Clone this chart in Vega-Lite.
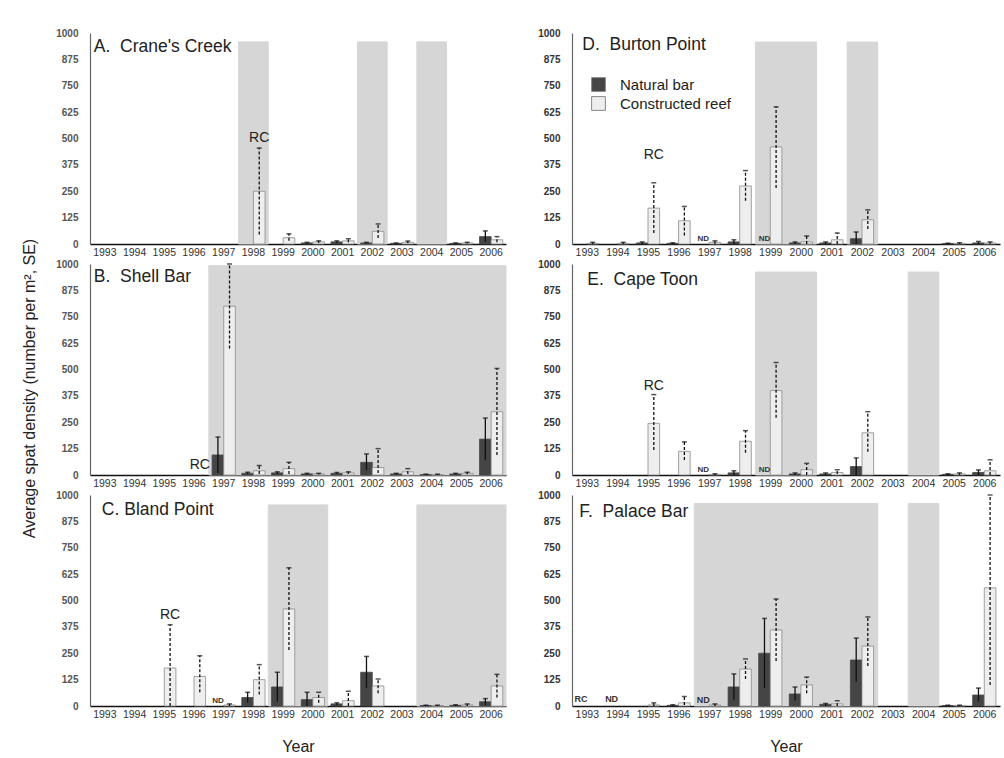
{
"$schema": "https://vega.github.io/schema/vega-lite/v6.json",
"padding": {"left": 21, "top": 28, "right": 5, "bottom": 5},
"background": "white",
"config": {"font": "Liberation Sans", "view": {"stroke": null}, "title": {"font": "Liberation Sans"}},
"datasets": {
"panels": [
{"site":"A","label":"A.\u00a0\u00a0Crane's Creek"},
{"site":"B","label":"B.\u00a0\u00a0Shell Bar"},
{"site":"C","label":"C.\u00a0Bland Point"},
{"site":"D","label":"D.\u00a0\u00a0Burton Point"},
{"site":"E","label":"E.\u00a0\u00a0Cape Toon"},
{"site":"F","label":"F.\u00a0\u00a0Palace Bar"}
],
"shade": [
{"site":"A","year":1998},{"site":"A","year":2002},{"site":"A","year":2004},
{"site":"B","year":1997},{"site":"B","year":1998},{"site":"B","year":1999},{"site":"B","year":2000},{"site":"B","year":2001},{"site":"B","year":2002},{"site":"B","year":2003},{"site":"B","year":2004},{"site":"B","year":2005},{"site":"B","year":2006},
{"site":"C","year":1999},{"site":"C","year":2000},{"site":"C","year":2004},{"site":"C","year":2005},{"site":"C","year":2006},
{"site":"D","year":1999},{"site":"D","year":2000},{"site":"D","year":2002},
{"site":"E","year":1999},{"site":"E","year":2000},{"site":"E","year":2004},
{"site":"F","year":1997},{"site":"F","year":1998},{"site":"F","year":1999},{"site":"F","year":2000},{"site":"F","year":2001},{"site":"F","year":2002},{"site":"F","year":2004}
],
"bars": [
{"site":"A","year":1998,"type":"Constructed reef","mean":250,"lo":45,"hi":455},
{"site":"A","year":1999,"type":"Constructed reef","mean":30,"lo":15,"hi":48},
{"site":"A","year":2000,"type":"Natural bar","mean":5,"lo":2,"hi":8},
{"site":"A","year":2000,"type":"Constructed reef","mean":10,"lo":5,"hi":15},
{"site":"A","year":2001,"type":"Natural bar","mean":10,"lo":5,"hi":15},
{"site":"A","year":2001,"type":"Constructed reef","mean":15,"lo":8,"hi":25},
{"site":"A","year":2002,"type":"Natural bar","mean":5,"lo":2,"hi":8},
{"site":"A","year":2002,"type":"Constructed reef","mean":60,"lo":28,"hi":95},
{"site":"A","year":2003,"type":"Natural bar","mean":3,"lo":1,"hi":5},
{"site":"A","year":2003,"type":"Constructed reef","mean":8,"lo":3,"hi":14},
{"site":"A","year":2005,"type":"Natural bar","mean":3,"lo":1,"hi":5},
{"site":"A","year":2005,"type":"Constructed reef","mean":5,"lo":2,"hi":8},
{"site":"A","year":2006,"type":"Natural bar","mean":35,"lo":10,"hi":62},
{"site":"A","year":2006,"type":"Constructed reef","mean":20,"lo":8,"hi":35},
{"site":"B","year":1997,"type":"Natural bar","mean":95,"lo":10,"hi":180},
{"site":"B","year":1997,"type":"Constructed reef","mean":800,"lo":600,"hi":1000},
{"site":"B","year":1998,"type":"Natural bar","mean":8,"lo":3,"hi":13},
{"site":"B","year":1998,"type":"Constructed reef","mean":20,"lo":5,"hi":45},
{"site":"B","year":1999,"type":"Natural bar","mean":10,"lo":5,"hi":15},
{"site":"B","year":1999,"type":"Constructed reef","mean":30,"lo":5,"hi":60},
{"site":"B","year":2000,"type":"Natural bar","mean":5,"lo":2,"hi":8},
{"site":"B","year":2000,"type":"Constructed reef","mean":5,"lo":2,"hi":8},
{"site":"B","year":2001,"type":"Natural bar","mean":8,"lo":5,"hi":12},
{"site":"B","year":2001,"type":"Constructed reef","mean":10,"lo":5,"hi":15},
{"site":"B","year":2002,"type":"Natural bar","mean":60,"lo":22,"hi":100},
{"site":"B","year":2002,"type":"Constructed reef","mean":35,"lo":10,"hi":125},
{"site":"B","year":2003,"type":"Natural bar","mean":5,"lo":2,"hi":8},
{"site":"B","year":2003,"type":"Constructed reef","mean":15,"lo":5,"hi":30},
{"site":"B","year":2004,"type":"Natural bar","mean":2,"lo":0,"hi":4},
{"site":"B","year":2004,"type":"Constructed reef","mean":2,"lo":0,"hi":4},
{"site":"B","year":2005,"type":"Natural bar","mean":5,"lo":2,"hi":8},
{"site":"B","year":2005,"type":"Constructed reef","mean":8,"lo":3,"hi":13},
{"site":"B","year":2006,"type":"Natural bar","mean":170,"lo":70,"hi":270},
{"site":"B","year":2006,"type":"Constructed reef","mean":300,"lo":95,"hi":505},
{"site":"C","year":1995,"type":"Constructed reef","mean":180,"lo":0,"hi":385},
{"site":"C","year":1996,"type":"Constructed reef","mean":140,"lo":65,"hi":238},
{"site":"C","year":1997,"type":"Constructed reef","mean":5,"lo":0,"hi":10},
{"site":"C","year":1998,"type":"Natural bar","mean":40,"lo":15,"hi":65},
{"site":"C","year":1998,"type":"Constructed reef","mean":125,"lo":55,"hi":196},
{"site":"C","year":1999,"type":"Natural bar","mean":90,"lo":20,"hi":160},
{"site":"C","year":1999,"type":"Constructed reef","mean":460,"lo":265,"hi":655},
{"site":"C","year":2000,"type":"Natural bar","mean":30,"lo":0,"hi":65},
{"site":"C","year":2000,"type":"Constructed reef","mean":40,"lo":15,"hi":65},
{"site":"C","year":2001,"type":"Natural bar","mean":10,"lo":5,"hi":15},
{"site":"C","year":2001,"type":"Constructed reef","mean":25,"lo":0,"hi":70},
{"site":"C","year":2002,"type":"Natural bar","mean":160,"lo":85,"hi":235},
{"site":"C","year":2002,"type":"Constructed reef","mean":95,"lo":60,"hi":128},
{"site":"C","year":2004,"type":"Natural bar","mean":2,"lo":0,"hi":4},
{"site":"C","year":2004,"type":"Constructed reef","mean":2,"lo":0,"hi":4},
{"site":"C","year":2005,"type":"Natural bar","mean":3,"lo":0,"hi":6},
{"site":"C","year":2005,"type":"Constructed reef","mean":5,"lo":0,"hi":10},
{"site":"C","year":2006,"type":"Natural bar","mean":20,"lo":5,"hi":35},
{"site":"C","year":2006,"type":"Constructed reef","mean":95,"lo":40,"hi":150},
{"site":"D","year":1993,"type":"Constructed reef","mean":3,"lo":0,"hi":8},
{"site":"D","year":1994,"type":"Constructed reef","mean":3,"lo":0,"hi":8},
{"site":"D","year":1995,"type":"Natural bar","mean":5,"lo":0,"hi":10},
{"site":"D","year":1995,"type":"Constructed reef","mean":170,"lo":52,"hi":290},
{"site":"D","year":1996,"type":"Natural bar","mean":3,"lo":0,"hi":6},
{"site":"D","year":1996,"type":"Constructed reef","mean":110,"lo":40,"hi":178},
{"site":"D","year":1997,"type":"Constructed reef","mean":8,"lo":0,"hi":15},
{"site":"D","year":1998,"type":"Natural bar","mean":10,"lo":0,"hi":20},
{"site":"D","year":1998,"type":"Constructed reef","mean":275,"lo":205,"hi":348},
{"site":"D","year":1999,"type":"Constructed reef","mean":460,"lo":265,"hi":650},
{"site":"D","year":2000,"type":"Natural bar","mean":5,"lo":0,"hi":10},
{"site":"D","year":2000,"type":"Constructed reef","mean":10,"lo":0,"hi":38},
{"site":"D","year":2001,"type":"Natural bar","mean":5,"lo":0,"hi":10},
{"site":"D","year":2001,"type":"Constructed reef","mean":20,"lo":0,"hi":52},
{"site":"D","year":2002,"type":"Natural bar","mean":25,"lo":0,"hi":57},
{"site":"D","year":2002,"type":"Constructed reef","mean":115,"lo":71,"hi":162},
{"site":"D","year":2005,"type":"Natural bar","mean":2,"lo":0,"hi":4},
{"site":"D","year":2005,"type":"Constructed reef","mean":3,"lo":0,"hi":6},
{"site":"D","year":2006,"type":"Natural bar","mean":5,"lo":0,"hi":12},
{"site":"D","year":2006,"type":"Constructed reef","mean":5,"lo":0,"hi":10},
{"site":"E","year":1995,"type":"Constructed reef","mean":245,"lo":119,"hi":381},
{"site":"E","year":1996,"type":"Constructed reef","mean":112,"lo":71,"hi":157},
{"site":"E","year":1997,"type":"Constructed reef","mean":3,"lo":0,"hi":6},
{"site":"E","year":1998,"type":"Natural bar","mean":10,"lo":0,"hi":20},
{"site":"E","year":1998,"type":"Constructed reef","mean":160,"lo":105,"hi":210},
{"site":"E","year":1999,"type":"Constructed reef","mean":400,"lo":271,"hi":533},
{"site":"E","year":2000,"type":"Natural bar","mean":5,"lo":0,"hi":10},
{"site":"E","year":2000,"type":"Constructed reef","mean":25,"lo":0,"hi":55},
{"site":"E","year":2001,"type":"Natural bar","mean":5,"lo":0,"hi":10},
{"site":"E","year":2001,"type":"Constructed reef","mean":12,"lo":5,"hi":25},
{"site":"E","year":2002,"type":"Natural bar","mean":40,"lo":0,"hi":81},
{"site":"E","year":2002,"type":"Constructed reef","mean":200,"lo":110,"hi":300},
{"site":"E","year":2005,"type":"Natural bar","mean":3,"lo":0,"hi":6},
{"site":"E","year":2005,"type":"Constructed reef","mean":5,"lo":0,"hi":10},
{"site":"E","year":2006,"type":"Natural bar","mean":12,"lo":0,"hi":24},
{"site":"E","year":2006,"type":"Constructed reef","mean":20,"lo":0,"hi":72},
{"site":"F","year":1995,"type":"Constructed reef","mean":5,"lo":0,"hi":15},
{"site":"F","year":1996,"type":"Natural bar","mean":3,"lo":0,"hi":6},
{"site":"F","year":1996,"type":"Constructed reef","mean":15,"lo":5,"hi":45},
{"site":"F","year":1997,"type":"Constructed reef","mean":5,"lo":0,"hi":10},
{"site":"F","year":1998,"type":"Natural bar","mean":90,"lo":30,"hi":152},
{"site":"F","year":1998,"type":"Constructed reef","mean":175,"lo":128,"hi":223},
{"site":"F","year":1999,"type":"Natural bar","mean":250,"lo":85,"hi":415},
{"site":"F","year":1999,"type":"Constructed reef","mean":360,"lo":213,"hi":507},
{"site":"F","year":2000,"type":"Natural bar","mean":57,"lo":25,"hi":90},
{"site":"F","year":2000,"type":"Constructed reef","mean":100,"lo":60,"hi":137},
{"site":"F","year":2001,"type":"Natural bar","mean":8,"lo":0,"hi":12},
{"site":"F","year":2001,"type":"Constructed reef","mean":10,"lo":0,"hi":25},
{"site":"F","year":2002,"type":"Natural bar","mean":218,"lo":115,"hi":322},
{"site":"F","year":2002,"type":"Constructed reef","mean":284,"lo":190,"hi":422},
{"site":"F","year":2005,"type":"Natural bar","mean":2,"lo":0,"hi":4},
{"site":"F","year":2005,"type":"Constructed reef","mean":2,"lo":0,"hi":4},
{"site":"F","year":2006,"type":"Natural bar","mean":52,"lo":20,"hi":85},
{"site":"F","year":2006,"type":"Constructed reef","mean":560,"lo":100,"hi":1000}
],
"notes": [
{"site":"A","year":1998,"type":"Constructed reef","value":470,"text":"RC"},
{"site":"B","year":1996,"type":"Constructed reef","value":12,"text":"RC"},
{"site":"C","year":1995,"type":"Constructed reef","value":400,"text":"RC"},
{"site":"D","year":1995,"type":"Constructed reef","value":390,"text":"RC"},
{"site":"E","year":1995,"type":"Constructed reef","value":390,"text":"RC"},
{"site":"F","year":1993,"type":"Natural bar","value":5,"text":"RC"},
{"site":"F","year":1994,"type":"Natural bar","value":5,"text":"ND"},
{"site":"C","year":1997,"type":"Natural bar","value":0,"text":"ND"},
{"site":"D","year":1997,"type":"Natural bar","value":0,"text":"ND"},
{"site":"D","year":1999,"type":"Natural bar","value":0,"text":"ND"},
{"site":"E","year":1997,"type":"Natural bar","value":0,"text":"ND"},
{"site":"E","year":1999,"type":"Natural bar","value":0,"text":"ND"},
{"site":"F","year":1997,"type":"Natural bar","value":0,"text":"ND"}
]
},
"columns": 2,
"bounds": "flush",
"spacing": {"row": 20, "column": 66},
"resolve": {"legend": {"fill": "independent"}},
"concat": [
{
"width": 416, "height": 211,
"encoding": {"x": {"field":"year","type":"ordinal","scale":{"domain":[1993,1994,1995,1996,1997,1998,1999,2000,2001,2002,2003,2004,2005,2006],"paddingInner":0,"paddingOuter":0},"axis":{"title":null,"labelFontSize":10.5,"labelColor":"#333","ticks":false,"labelAngle":0,"domainColor":"#111","domainWidth":1.5,"labelPadding":3,"labelOverlap":false}}},
"layer": [
{"data":{"name":"shade"},"transform":[{"filter":"datum.site==='A'"}],"mark":{"type":"bar","color":"#d6d6d6","stroke":"#d6d6d6","strokeWidth":1},
 "encoding":{"y":{"datum":958,"type":"quantitative","scale":{"domain":[0,1000],"nice":false},"axis":{"values":[0,125,250,375,500,625,750,875,1000],"format":"d","title":null,"labelFontSize":10,"labelFontWeight":"bold","labelColor":"#555","ticks":false,"grid":false,"domainColor":"#666","domainWidth":1.2,"labelPadding":12,"labelFlush":false,"labelOverlap":false}},"y2":{"datum":0}}},
{"data":{"name":"bars"},"transform":[{"filter":"datum.site==='A'"}],"mark":{"type":"bar","strokeWidth":0.8},
 "encoding":{"xOffset":{"field":"type","type":"nominal","scale":{"domain":["Natural bar","Constructed reef"],"paddingInner":0,"paddingOuter":0.28}},
  "y":{"field":"mean","type":"quantitative","scale":{"domain":[0,1000],"nice":false},"axis":{"values":[0,125,250,375,500,625,750,875,1000],"format":"d","title":null,"labelFontSize":10,"labelFontWeight":"bold","labelColor":"#555","ticks":false,"grid":false,"domainColor":"#666","domainWidth":1.2,"labelPadding":12,"labelFlush":false,"labelOverlap":false}},
  "fill":{"field":"type","type":"nominal","scale":{"domain":["Natural bar","Constructed reef"],"range":["#454545","#eeeeee"]},"legend":null},
  "stroke":{"condition":{"test":"datum.type==='Constructed reef'","value":"#8c8c8c"},"value":"#454545"}}},
{"data":{"name":"bars"},"transform":[{"filter":"datum.site==='A'"}],"mark":{"type":"rule","strokeWidth":1.3,"color":"#111"},
 "encoding":{"xOffset":{"field":"type","type":"nominal","scale":{"domain":["Natural bar","Constructed reef"],"paddingInner":0,"paddingOuter":0.28}},
  "y":{"field":"lo","type":"quantitative","scale":{"domain":[0,1000],"nice":false},"axis":{"values":[0,125,250,375,500,625,750,875,1000],"format":"d","title":null,"labelFontSize":10,"labelFontWeight":"bold","labelColor":"#555","ticks":false,"grid":false,"domainColor":"#666","domainWidth":1.2,"labelPadding":12,"labelFlush":false,"labelOverlap":false}},"y2":{"field":"hi"},
  "strokeDash":{"field":"type","type":"nominal","scale":{"domain":["Natural bar","Constructed reef"],"range":[[1,0],[3,2]]},"legend":null}}},
{"data":{"name":"bars"},"transform":[{"filter":"datum.site==='A'"}],"mark":{"type":"tick","size":5,"thickness":1.5,"color":"#111"},
 "encoding":{"xOffset":{"field":"type","type":"nominal","scale":{"domain":["Natural bar","Constructed reef"],"paddingInner":0,"paddingOuter":0.28}},
  "y":{"field":"hi","type":"quantitative","scale":{"domain":[0,1000],"nice":false},"axis":{"values":[0,125,250,375,500,625,750,875,1000],"format":"d","title":null,"labelFontSize":10,"labelFontWeight":"bold","labelColor":"#555","ticks":false,"grid":false,"domainColor":"#666","domainWidth":1.2,"labelPadding":12,"labelFlush":false,"labelOverlap":false}}}},
{"data":{"name":"notes"},"transform":[{"filter":"datum.site==='A' && datum.text==='RC'"}],"mark":{"type":"text","fontSize":14,"color":"#222","baseline":"bottom","align":"center"},
 "encoding":{"xOffset":{"field":"type","type":"nominal","scale":{"domain":["Natural bar","Constructed reef"],"paddingInner":0,"paddingOuter":0.28}},
  "y":{"field":"value","type":"quantitative","scale":{"domain":[0,1000],"nice":false},"axis":{"values":[0,125,250,375,500,625,750,875,1000],"format":"d","title":null,"labelFontSize":10,"labelFontWeight":"bold","labelColor":"#555","ticks":false,"grid":false,"domainColor":"#666","domainWidth":1.2,"labelPadding":12,"labelFlush":false,"labelOverlap":false}},"text":{"field":"text"}}},
{"data":{"name":"panels"},"transform":[{"filter":"datum.site==='A'"}],"mark":{"type":"text","fontSize":17.5,"color":"#222","baseline":"top","align":"left","dx":-11,"dy":5},
 "encoding":{"x":{"datum":1993,"type":"ordinal","scale":{"domain":[1993,1994,1995,1996,1997,1998,1999,2000,2001,2002,2003,2004,2005,2006],"paddingInner":0,"paddingOuter":0},"axis":{"title":null,"labelFontSize":10.5,"labelColor":"#333","ticks":false,"labelAngle":0,"domainColor":"#111","domainWidth":1.5,"labelPadding":3,"labelOverlap":false}},
  "y":{"datum":1000,"type":"quantitative","scale":{"domain":[0,1000],"nice":false},"axis":{"values":[0,125,250,375,500,625,750,875,1000],"format":"d","title":null,"labelFontSize":10,"labelFontWeight":"bold","labelColor":"#555","ticks":false,"grid":false,"domainColor":"#666","domainWidth":1.2,"labelPadding":12,"labelFlush":false,"labelOverlap":false}},"text":{"field":"label"}}}
]
},
{
"width": 428, "height": 211,
"encoding": {"x": {"field":"year","type":"ordinal","scale":{"domain":[1993,1994,1995,1996,1997,1998,1999,2000,2001,2002,2003,2004,2005,2006],"paddingInner":0,"paddingOuter":0},"axis":{"title":null,"labelFontSize":10.5,"labelColor":"#333","ticks":false,"labelAngle":0,"domainColor":"#111","domainWidth":1.5,"labelPadding":3,"labelOverlap":false}}},
"layer": [
{"data":{"name":"shade"},"transform":[{"filter":"datum.site==='D'"}],"mark":{"type":"bar","color":"#d6d6d6","stroke":"#d6d6d6","strokeWidth":1},
 "encoding":{"y":{"datum":957,"type":"quantitative","scale":{"domain":[0,1000],"nice":false},"axis":{"values":[0,125,250,375,500,625,750,875,1000],"format":"d","title":null,"labelFontSize":10,"labelFontWeight":"bold","labelColor":"#333","ticks":false,"grid":false,"domainColor":"#666","domainWidth":1.2,"labelPadding":12,"labelFlush":false,"labelOverlap":false}},"y2":{"datum":0}}},
{"data":{"name":"bars"},"transform":[{"filter":"datum.site==='D'"}],"mark":{"type":"bar","strokeWidth":0.8},
 "encoding":{"xOffset":{"field":"type","type":"nominal","scale":{"domain":["Natural bar","Constructed reef"],"paddingInner":0,"paddingOuter":0.28}},
  "y":{"field":"mean","type":"quantitative","scale":{"domain":[0,1000],"nice":false},"axis":{"values":[0,125,250,375,500,625,750,875,1000],"format":"d","title":null,"labelFontSize":10,"labelFontWeight":"bold","labelColor":"#333","ticks":false,"grid":false,"domainColor":"#666","domainWidth":1.2,"labelPadding":12,"labelFlush":false,"labelOverlap":false}},
  "fill":{"field":"type","type":"nominal","scale":{"domain":["Natural bar","Constructed reef"],"range":["#454545","#eeeeee"]},"legend":{"title":null,"orient":"none","legendX":19,"legendY":44,"symbolType":"square","symbolSize":190,"symbolStrokeColor":"#888","symbolStrokeWidth":1,"labelFontSize":15,"labelColor":"#222","labelFont":"Liberation Sans","labelOffset":14,"rowPadding":0}},
  "stroke":{"condition":{"test":"datum.type==='Constructed reef'","value":"#8c8c8c"},"value":"#454545"}}},
{"data":{"name":"bars"},"transform":[{"filter":"datum.site==='D'"}],"mark":{"type":"rule","strokeWidth":1.3,"color":"#111"},
 "encoding":{"xOffset":{"field":"type","type":"nominal","scale":{"domain":["Natural bar","Constructed reef"],"paddingInner":0,"paddingOuter":0.28}},
  "y":{"field":"lo","type":"quantitative","scale":{"domain":[0,1000],"nice":false},"axis":{"values":[0,125,250,375,500,625,750,875,1000],"format":"d","title":null,"labelFontSize":10,"labelFontWeight":"bold","labelColor":"#333","ticks":false,"grid":false,"domainColor":"#666","domainWidth":1.2,"labelPadding":12,"labelFlush":false,"labelOverlap":false}},"y2":{"field":"hi"},
  "strokeDash":{"field":"type","type":"nominal","scale":{"domain":["Natural bar","Constructed reef"],"range":[[1,0],[3,2]]},"legend":null}}},
{"data":{"name":"bars"},"transform":[{"filter":"datum.site==='D'"}],"mark":{"type":"tick","size":5,"thickness":1.5,"color":"#111"},
 "encoding":{"xOffset":{"field":"type","type":"nominal","scale":{"domain":["Natural bar","Constructed reef"],"paddingInner":0,"paddingOuter":0.28}},
  "y":{"field":"hi","type":"quantitative","scale":{"domain":[0,1000],"nice":false},"axis":{"values":[0,125,250,375,500,625,750,875,1000],"format":"d","title":null,"labelFontSize":10,"labelFontWeight":"bold","labelColor":"#333","ticks":false,"grid":false,"domainColor":"#666","domainWidth":1.2,"labelPadding":12,"labelFlush":false,"labelOverlap":false}}}},
{"data":{"name":"notes"},"transform":[{"filter":"datum.site==='D' && datum.text==='RC'"}],"mark":{"type":"text","fontSize":14,"color":"#222","baseline":"bottom","align":"center"},
 "encoding":{"xOffset":{"field":"type","type":"nominal","scale":{"domain":["Natural bar","Constructed reef"],"paddingInner":0,"paddingOuter":0.28}},
  "y":{"field":"value","type":"quantitative","scale":{"domain":[0,1000],"nice":false},"axis":{"values":[0,125,250,375,500,625,750,875,1000],"format":"d","title":null,"labelFontSize":10,"labelFontWeight":"bold","labelColor":"#333","ticks":false,"grid":false,"domainColor":"#666","domainWidth":1.2,"labelPadding":12,"labelFlush":false,"labelOverlap":false}},"text":{"field":"text"}}},
{"data":{"name":"notes"},"transform":[{"filter":"datum.site==='D' && datum.text==='ND'"}],"mark":{"type":"text","fontSize":8,"fontWeight":"bold","color":"#333","baseline":"bottom","align":"center","dy":-1},
 "encoding":{"xOffset":{"field":"type","type":"nominal","scale":{"domain":["Natural bar","Constructed reef"],"paddingInner":0,"paddingOuter":0.28}},
  "y":{"field":"value","type":"quantitative","scale":{"domain":[0,1000],"nice":false},"axis":{"values":[0,125,250,375,500,625,750,875,1000],"format":"d","title":null,"labelFontSize":10,"labelFontWeight":"bold","labelColor":"#333","ticks":false,"grid":false,"domainColor":"#666","domainWidth":1.2,"labelPadding":12,"labelFlush":false,"labelOverlap":false}},"text":{"field":"text"}}},
{"data":{"name":"panels"},"transform":[{"filter":"datum.site==='D'"}],"mark":{"type":"text","fontSize":17.5,"color":"#222","baseline":"top","align":"left","dx":-5,"dy":3},
 "encoding":{"x":{"datum":1993,"type":"ordinal","scale":{"domain":[1993,1994,1995,1996,1997,1998,1999,2000,2001,2002,2003,2004,2005,2006],"paddingInner":0,"paddingOuter":0},"axis":{"title":null,"labelFontSize":10.5,"labelColor":"#333","ticks":false,"labelAngle":0,"domainColor":"#111","domainWidth":1.5,"labelPadding":3,"labelOverlap":false}},
  "y":{"datum":1000,"type":"quantitative","scale":{"domain":[0,1000],"nice":false},"axis":{"values":[0,125,250,375,500,625,750,875,1000],"format":"d","title":null,"labelFontSize":10,"labelFontWeight":"bold","labelColor":"#333","ticks":false,"grid":false,"domainColor":"#666","domainWidth":1.2,"labelPadding":12,"labelFlush":false,"labelOverlap":false}},"text":{"field":"label"}}}
]
},
{
"width": 416, "height": 211,
"encoding": {"x": {"field":"year","type":"ordinal","scale":{"domain":[1993,1994,1995,1996,1997,1998,1999,2000,2001,2002,2003,2004,2005,2006],"paddingInner":0,"paddingOuter":0},"axis":{"title":null,"labelFontSize":10.5,"labelColor":"#333","ticks":false,"labelAngle":0,"domainColor":"#111","domainWidth":1.5,"labelPadding":3,"labelOverlap":false}}},
"layer": [
{"data":{"name":"shade"},"transform":[{"filter":"datum.site==='B'"}],"mark":{"type":"bar","color":"#d6d6d6","stroke":"#d6d6d6","strokeWidth":1},
 "encoding":{"y":{"datum":992,"type":"quantitative","scale":{"domain":[0,1000],"nice":false},"axis":{"values":[0,125,250,375,500,625,750,875,1000],"format":"d","title":"Average spat density (number per m², SE)","titleFontSize":16,"titleFontWeight":"normal","titleColor":"#222","titlePadding":18,"titleY":124,"labelFontSize":10,"labelFontWeight":"bold","labelColor":"#555","ticks":false,"grid":false,"domainColor":"#666","domainWidth":1.2,"labelPadding":12,"labelFlush":false,"labelOverlap":false}},"y2":{"datum":0}}},
{"data":{"name":"bars"},"transform":[{"filter":"datum.site==='B'"}],"mark":{"type":"bar","strokeWidth":0.8},
 "encoding":{"xOffset":{"field":"type","type":"nominal","scale":{"domain":["Natural bar","Constructed reef"],"paddingInner":0,"paddingOuter":0.28}},
  "y":{"field":"mean","type":"quantitative","scale":{"domain":[0,1000],"nice":false},"axis":{"values":[0,125,250,375,500,625,750,875,1000],"format":"d","title":"Average spat density (number per m², SE)","titleFontSize":16,"titleFontWeight":"normal","titleColor":"#222","titlePadding":18,"titleY":124,"labelFontSize":10,"labelFontWeight":"bold","labelColor":"#555","ticks":false,"grid":false,"domainColor":"#666","domainWidth":1.2,"labelPadding":12,"labelFlush":false,"labelOverlap":false}},
  "fill":{"field":"type","type":"nominal","scale":{"domain":["Natural bar","Constructed reef"],"range":["#454545","#eeeeee"]},"legend":null},
  "stroke":{"condition":{"test":"datum.type==='Constructed reef'","value":"#8c8c8c"},"value":"#454545"}}},
{"data":{"name":"bars"},"transform":[{"filter":"datum.site==='B'"}],"mark":{"type":"rule","strokeWidth":1.3,"color":"#111"},
 "encoding":{"xOffset":{"field":"type","type":"nominal","scale":{"domain":["Natural bar","Constructed reef"],"paddingInner":0,"paddingOuter":0.28}},
  "y":{"field":"lo","type":"quantitative","scale":{"domain":[0,1000],"nice":false},"axis":{"values":[0,125,250,375,500,625,750,875,1000],"format":"d","title":"Average spat density (number per m², SE)","titleFontSize":16,"titleFontWeight":"normal","titleColor":"#222","titlePadding":18,"titleY":124,"labelFontSize":10,"labelFontWeight":"bold","labelColor":"#555","ticks":false,"grid":false,"domainColor":"#666","domainWidth":1.2,"labelPadding":12,"labelFlush":false,"labelOverlap":false}},"y2":{"field":"hi"},
  "strokeDash":{"field":"type","type":"nominal","scale":{"domain":["Natural bar","Constructed reef"],"range":[[1,0],[3,2]]},"legend":null}}},
{"data":{"name":"bars"},"transform":[{"filter":"datum.site==='B'"}],"mark":{"type":"tick","size":5,"thickness":1.5,"color":"#111"},
 "encoding":{"xOffset":{"field":"type","type":"nominal","scale":{"domain":["Natural bar","Constructed reef"],"paddingInner":0,"paddingOuter":0.28}},
  "y":{"field":"hi","type":"quantitative","scale":{"domain":[0,1000],"nice":false},"axis":{"values":[0,125,250,375,500,625,750,875,1000],"format":"d","title":"Average spat density (number per m², SE)","titleFontSize":16,"titleFontWeight":"normal","titleColor":"#222","titlePadding":18,"titleY":124,"labelFontSize":10,"labelFontWeight":"bold","labelColor":"#555","ticks":false,"grid":false,"domainColor":"#666","domainWidth":1.2,"labelPadding":12,"labelFlush":false,"labelOverlap":false}}}},
{"data":{"name":"notes"},"transform":[{"filter":"datum.site==='B' && datum.text==='RC'"}],"mark":{"type":"text","fontSize":14,"color":"#222","baseline":"bottom","align":"center"},
 "encoding":{"xOffset":{"field":"type","type":"nominal","scale":{"domain":["Natural bar","Constructed reef"],"paddingInner":0,"paddingOuter":0.28}},
  "y":{"field":"value","type":"quantitative","scale":{"domain":[0,1000],"nice":false},"axis":{"values":[0,125,250,375,500,625,750,875,1000],"format":"d","title":"Average spat density (number per m², SE)","titleFontSize":16,"titleFontWeight":"normal","titleColor":"#222","titlePadding":18,"titleY":124,"labelFontSize":10,"labelFontWeight":"bold","labelColor":"#555","ticks":false,"grid":false,"domainColor":"#666","domainWidth":1.2,"labelPadding":12,"labelFlush":false,"labelOverlap":false}},"text":{"field":"text"}}},
{"data":{"name":"panels"},"transform":[{"filter":"datum.site==='B'"}],"mark":{"type":"text","fontSize":17.5,"color":"#222","baseline":"top","align":"left","dx":-11,"dy":4},
 "encoding":{"x":{"datum":1993,"type":"ordinal","scale":{"domain":[1993,1994,1995,1996,1997,1998,1999,2000,2001,2002,2003,2004,2005,2006],"paddingInner":0,"paddingOuter":0},"axis":{"title":null,"labelFontSize":10.5,"labelColor":"#333","ticks":false,"labelAngle":0,"domainColor":"#111","domainWidth":1.5,"labelPadding":3,"labelOverlap":false}},
  "y":{"datum":1000,"type":"quantitative","scale":{"domain":[0,1000],"nice":false},"axis":{"values":[0,125,250,375,500,625,750,875,1000],"format":"d","title":"Average spat density (number per m², SE)","titleFontSize":16,"titleFontWeight":"normal","titleColor":"#222","titlePadding":18,"titleY":124,"labelFontSize":10,"labelFontWeight":"bold","labelColor":"#555","ticks":false,"grid":false,"domainColor":"#666","domainWidth":1.2,"labelPadding":12,"labelFlush":false,"labelOverlap":false}},"text":{"field":"label"}}}
]
},
{
"width": 428, "height": 211,
"encoding": {"x": {"field":"year","type":"ordinal","scale":{"domain":[1993,1994,1995,1996,1997,1998,1999,2000,2001,2002,2003,2004,2005,2006],"paddingInner":0,"paddingOuter":0},"axis":{"title":null,"labelFontSize":10.5,"labelColor":"#333","ticks":false,"labelAngle":0,"domainColor":"#111","domainWidth":1.5,"labelPadding":3,"labelOverlap":false}}},
"layer": [
{"data":{"name":"shade"},"transform":[{"filter":"datum.site==='E'"}],"mark":{"type":"bar","color":"#d6d6d6","stroke":"#d6d6d6","strokeWidth":1},
 "encoding":{"y":{"datum":962,"type":"quantitative","scale":{"domain":[0,1000],"nice":false},"axis":{"values":[0,125,250,375,500,625,750,875,1000],"format":"d","title":null,"labelFontSize":10,"labelFontWeight":"bold","labelColor":"#333","ticks":false,"grid":false,"domainColor":"#666","domainWidth":1.2,"labelPadding":12,"labelFlush":false,"labelOverlap":false}},"y2":{"datum":0}}},
{"data":{"name":"bars"},"transform":[{"filter":"datum.site==='E'"}],"mark":{"type":"bar","strokeWidth":0.8},
 "encoding":{"xOffset":{"field":"type","type":"nominal","scale":{"domain":["Natural bar","Constructed reef"],"paddingInner":0,"paddingOuter":0.28}},
  "y":{"field":"mean","type":"quantitative","scale":{"domain":[0,1000],"nice":false},"axis":{"values":[0,125,250,375,500,625,750,875,1000],"format":"d","title":null,"labelFontSize":10,"labelFontWeight":"bold","labelColor":"#333","ticks":false,"grid":false,"domainColor":"#666","domainWidth":1.2,"labelPadding":12,"labelFlush":false,"labelOverlap":false}},
  "fill":{"field":"type","type":"nominal","scale":{"domain":["Natural bar","Constructed reef"],"range":["#454545","#eeeeee"]},"legend":null},
  "stroke":{"condition":{"test":"datum.type==='Constructed reef'","value":"#8c8c8c"},"value":"#454545"}}},
{"data":{"name":"bars"},"transform":[{"filter":"datum.site==='E'"}],"mark":{"type":"rule","strokeWidth":1.3,"color":"#111"},
 "encoding":{"xOffset":{"field":"type","type":"nominal","scale":{"domain":["Natural bar","Constructed reef"],"paddingInner":0,"paddingOuter":0.28}},
  "y":{"field":"lo","type":"quantitative","scale":{"domain":[0,1000],"nice":false},"axis":{"values":[0,125,250,375,500,625,750,875,1000],"format":"d","title":null,"labelFontSize":10,"labelFontWeight":"bold","labelColor":"#333","ticks":false,"grid":false,"domainColor":"#666","domainWidth":1.2,"labelPadding":12,"labelFlush":false,"labelOverlap":false}},"y2":{"field":"hi"},
  "strokeDash":{"field":"type","type":"nominal","scale":{"domain":["Natural bar","Constructed reef"],"range":[[1,0],[3,2]]},"legend":null}}},
{"data":{"name":"bars"},"transform":[{"filter":"datum.site==='E'"}],"mark":{"type":"tick","size":5,"thickness":1.5,"color":"#111"},
 "encoding":{"xOffset":{"field":"type","type":"nominal","scale":{"domain":["Natural bar","Constructed reef"],"paddingInner":0,"paddingOuter":0.28}},
  "y":{"field":"hi","type":"quantitative","scale":{"domain":[0,1000],"nice":false},"axis":{"values":[0,125,250,375,500,625,750,875,1000],"format":"d","title":null,"labelFontSize":10,"labelFontWeight":"bold","labelColor":"#333","ticks":false,"grid":false,"domainColor":"#666","domainWidth":1.2,"labelPadding":12,"labelFlush":false,"labelOverlap":false}}}},
{"data":{"name":"notes"},"transform":[{"filter":"datum.site==='E' && datum.text==='RC'"}],"mark":{"type":"text","fontSize":14,"color":"#222","baseline":"bottom","align":"center"},
 "encoding":{"xOffset":{"field":"type","type":"nominal","scale":{"domain":["Natural bar","Constructed reef"],"paddingInner":0,"paddingOuter":0.28}},
  "y":{"field":"value","type":"quantitative","scale":{"domain":[0,1000],"nice":false},"axis":{"values":[0,125,250,375,500,625,750,875,1000],"format":"d","title":null,"labelFontSize":10,"labelFontWeight":"bold","labelColor":"#333","ticks":false,"grid":false,"domainColor":"#666","domainWidth":1.2,"labelPadding":12,"labelFlush":false,"labelOverlap":false}},"text":{"field":"text"}}},
{"data":{"name":"notes"},"transform":[{"filter":"datum.site==='E' && datum.text==='ND'"}],"mark":{"type":"text","fontSize":8,"fontWeight":"bold","color":"#333","baseline":"bottom","align":"center","dy":-1},
 "encoding":{"xOffset":{"field":"type","type":"nominal","scale":{"domain":["Natural bar","Constructed reef"],"paddingInner":0,"paddingOuter":0.28}},
  "y":{"field":"value","type":"quantitative","scale":{"domain":[0,1000],"nice":false},"axis":{"values":[0,125,250,375,500,625,750,875,1000],"format":"d","title":null,"labelFontSize":10,"labelFontWeight":"bold","labelColor":"#333","ticks":false,"grid":false,"domainColor":"#666","domainWidth":1.2,"labelPadding":12,"labelFlush":false,"labelOverlap":false}},"text":{"field":"text"}}},
{"data":{"name":"panels"},"transform":[{"filter":"datum.site==='E'"}],"mark":{"type":"text","fontSize":17.5,"color":"#222","baseline":"top","align":"left","dx":0,"dy":7},
 "encoding":{"x":{"datum":1993,"type":"ordinal","scale":{"domain":[1993,1994,1995,1996,1997,1998,1999,2000,2001,2002,2003,2004,2005,2006],"paddingInner":0,"paddingOuter":0},"axis":{"title":null,"labelFontSize":10.5,"labelColor":"#333","ticks":false,"labelAngle":0,"domainColor":"#111","domainWidth":1.5,"labelPadding":3,"labelOverlap":false}},
  "y":{"datum":1000,"type":"quantitative","scale":{"domain":[0,1000],"nice":false},"axis":{"values":[0,125,250,375,500,625,750,875,1000],"format":"d","title":null,"labelFontSize":10,"labelFontWeight":"bold","labelColor":"#333","ticks":false,"grid":false,"domainColor":"#666","domainWidth":1.2,"labelPadding":12,"labelFlush":false,"labelOverlap":false}},"text":{"field":"label"}}}
]
},
{
"width": 416, "height": 211,
"encoding": {"x": {"field":"year","type":"ordinal","scale":{"domain":[1993,1994,1995,1996,1997,1998,1999,2000,2001,2002,2003,2004,2005,2006],"paddingInner":0,"paddingOuter":0},"axis":{"title":"Year","titleFontSize":16,"titleFontWeight":"normal","titleColor":"#222","titlePadding":19,"labelFontSize":10.5,"labelColor":"#333","ticks":false,"labelAngle":0,"domainColor":"#111","domainWidth":1.5,"labelPadding":3,"labelOverlap":false}}},
"layer": [
{"data":{"name":"shade"},"transform":[{"filter":"datum.site==='C'"}],"mark":{"type":"bar","color":"#d6d6d6","stroke":"#d6d6d6","strokeWidth":1},
 "encoding":{"y":{"datum":953,"type":"quantitative","scale":{"domain":[0,1000],"nice":false},"axis":{"values":[0,125,250,375,500,625,750,875,1000],"format":"d","title":null,"labelFontSize":10,"labelFontWeight":"bold","labelColor":"#555","ticks":false,"grid":false,"domainColor":"#666","domainWidth":1.2,"labelPadding":12,"labelFlush":false,"labelOverlap":false}},"y2":{"datum":0}}},
{"data":{"name":"bars"},"transform":[{"filter":"datum.site==='C'"}],"mark":{"type":"bar","strokeWidth":0.8},
 "encoding":{"xOffset":{"field":"type","type":"nominal","scale":{"domain":["Natural bar","Constructed reef"],"paddingInner":0,"paddingOuter":0.28}},
  "y":{"field":"mean","type":"quantitative","scale":{"domain":[0,1000],"nice":false},"axis":{"values":[0,125,250,375,500,625,750,875,1000],"format":"d","title":null,"labelFontSize":10,"labelFontWeight":"bold","labelColor":"#555","ticks":false,"grid":false,"domainColor":"#666","domainWidth":1.2,"labelPadding":12,"labelFlush":false,"labelOverlap":false}},
  "fill":{"field":"type","type":"nominal","scale":{"domain":["Natural bar","Constructed reef"],"range":["#454545","#eeeeee"]},"legend":null},
  "stroke":{"condition":{"test":"datum.type==='Constructed reef'","value":"#8c8c8c"},"value":"#454545"}}},
{"data":{"name":"bars"},"transform":[{"filter":"datum.site==='C'"}],"mark":{"type":"rule","strokeWidth":1.3,"color":"#111"},
 "encoding":{"xOffset":{"field":"type","type":"nominal","scale":{"domain":["Natural bar","Constructed reef"],"paddingInner":0,"paddingOuter":0.28}},
  "y":{"field":"lo","type":"quantitative","scale":{"domain":[0,1000],"nice":false},"axis":{"values":[0,125,250,375,500,625,750,875,1000],"format":"d","title":null,"labelFontSize":10,"labelFontWeight":"bold","labelColor":"#555","ticks":false,"grid":false,"domainColor":"#666","domainWidth":1.2,"labelPadding":12,"labelFlush":false,"labelOverlap":false}},"y2":{"field":"hi"},
  "strokeDash":{"field":"type","type":"nominal","scale":{"domain":["Natural bar","Constructed reef"],"range":[[1,0],[3,2]]},"legend":null}}},
{"data":{"name":"bars"},"transform":[{"filter":"datum.site==='C'"}],"mark":{"type":"tick","size":5,"thickness":1.5,"color":"#111"},
 "encoding":{"xOffset":{"field":"type","type":"nominal","scale":{"domain":["Natural bar","Constructed reef"],"paddingInner":0,"paddingOuter":0.28}},
  "y":{"field":"hi","type":"quantitative","scale":{"domain":[0,1000],"nice":false},"axis":{"values":[0,125,250,375,500,625,750,875,1000],"format":"d","title":null,"labelFontSize":10,"labelFontWeight":"bold","labelColor":"#555","ticks":false,"grid":false,"domainColor":"#666","domainWidth":1.2,"labelPadding":12,"labelFlush":false,"labelOverlap":false}}}},
{"data":{"name":"notes"},"transform":[{"filter":"datum.site==='C' && datum.text==='RC'"}],"mark":{"type":"text","fontSize":14,"color":"#222","baseline":"bottom","align":"center"},
 "encoding":{"xOffset":{"field":"type","type":"nominal","scale":{"domain":["Natural bar","Constructed reef"],"paddingInner":0,"paddingOuter":0.28}},
  "y":{"field":"value","type":"quantitative","scale":{"domain":[0,1000],"nice":false},"axis":{"values":[0,125,250,375,500,625,750,875,1000],"format":"d","title":null,"labelFontSize":10,"labelFontWeight":"bold","labelColor":"#555","ticks":false,"grid":false,"domainColor":"#666","domainWidth":1.2,"labelPadding":12,"labelFlush":false,"labelOverlap":false}},"text":{"field":"text"}}},
{"data":{"name":"notes"},"transform":[{"filter":"datum.site==='C' && datum.text==='ND'"}],"mark":{"type":"text","fontSize":8,"fontWeight":"bold","color":"#333","baseline":"bottom","align":"center","dy":-1},
 "encoding":{"xOffset":{"field":"type","type":"nominal","scale":{"domain":["Natural bar","Constructed reef"],"paddingInner":0,"paddingOuter":0.28}},
  "y":{"field":"value","type":"quantitative","scale":{"domain":[0,1000],"nice":false},"axis":{"values":[0,125,250,375,500,625,750,875,1000],"format":"d","title":null,"labelFontSize":10,"labelFontWeight":"bold","labelColor":"#555","ticks":false,"grid":false,"domainColor":"#666","domainWidth":1.2,"labelPadding":12,"labelFlush":false,"labelOverlap":false}},"text":{"field":"text"}}},
{"data":{"name":"panels"},"transform":[{"filter":"datum.site==='C'"}],"mark":{"type":"text","fontSize":17.5,"color":"#222","baseline":"top","align":"left","dx":-3,"dy":6},
 "encoding":{"x":{"datum":1993,"type":"ordinal","scale":{"domain":[1993,1994,1995,1996,1997,1998,1999,2000,2001,2002,2003,2004,2005,2006],"paddingInner":0,"paddingOuter":0},"axis":{"title":"Year","titleFontSize":16,"titleFontWeight":"normal","titleColor":"#222","titlePadding":19,"labelFontSize":10.5,"labelColor":"#333","ticks":false,"labelAngle":0,"domainColor":"#111","domainWidth":1.5,"labelPadding":3,"labelOverlap":false}},
  "y":{"datum":1000,"type":"quantitative","scale":{"domain":[0,1000],"nice":false},"axis":{"values":[0,125,250,375,500,625,750,875,1000],"format":"d","title":null,"labelFontSize":10,"labelFontWeight":"bold","labelColor":"#555","ticks":false,"grid":false,"domainColor":"#666","domainWidth":1.2,"labelPadding":12,"labelFlush":false,"labelOverlap":false}},"text":{"field":"label"}}}
]
},
{
"width": 428, "height": 211,
"encoding": {"x": {"field":"year","type":"ordinal","scale":{"domain":[1993,1994,1995,1996,1997,1998,1999,2000,2001,2002,2003,2004,2005,2006],"paddingInner":0,"paddingOuter":0},"axis":{"title":"Year","titleFontSize":16,"titleFontWeight":"normal","titleColor":"#222","titlePadding":19,"labelFontSize":10.5,"labelColor":"#333","ticks":false,"labelAngle":0,"domainColor":"#111","domainWidth":1.5,"labelPadding":3,"labelOverlap":false}}},
"layer": [
{"data":{"name":"shade"},"transform":[{"filter":"datum.site==='F'"}],"mark":{"type":"bar","color":"#d6d6d6","stroke":"#d6d6d6","strokeWidth":1},
 "encoding":{"y":{"datum":960,"type":"quantitative","scale":{"domain":[0,1000],"nice":false},"axis":{"values":[0,125,250,375,500,625,750,875,1000],"format":"d","title":null,"labelFontSize":10,"labelFontWeight":"bold","labelColor":"#333","ticks":false,"grid":false,"domainColor":"#666","domainWidth":1.2,"labelPadding":12,"labelFlush":false,"labelOverlap":false}},"y2":{"datum":0}}},
{"data":{"name":"bars"},"transform":[{"filter":"datum.site==='F'"}],"mark":{"type":"bar","strokeWidth":0.8},
 "encoding":{"xOffset":{"field":"type","type":"nominal","scale":{"domain":["Natural bar","Constructed reef"],"paddingInner":0,"paddingOuter":0.28}},
  "y":{"field":"mean","type":"quantitative","scale":{"domain":[0,1000],"nice":false},"axis":{"values":[0,125,250,375,500,625,750,875,1000],"format":"d","title":null,"labelFontSize":10,"labelFontWeight":"bold","labelColor":"#333","ticks":false,"grid":false,"domainColor":"#666","domainWidth":1.2,"labelPadding":12,"labelFlush":false,"labelOverlap":false}},
  "fill":{"field":"type","type":"nominal","scale":{"domain":["Natural bar","Constructed reef"],"range":["#454545","#eeeeee"]},"legend":null},
  "stroke":{"condition":{"test":"datum.type==='Constructed reef'","value":"#8c8c8c"},"value":"#454545"}}},
{"data":{"name":"bars"},"transform":[{"filter":"datum.site==='F'"}],"mark":{"type":"rule","strokeWidth":1.3,"color":"#111"},
 "encoding":{"xOffset":{"field":"type","type":"nominal","scale":{"domain":["Natural bar","Constructed reef"],"paddingInner":0,"paddingOuter":0.28}},
  "y":{"field":"lo","type":"quantitative","scale":{"domain":[0,1000],"nice":false},"axis":{"values":[0,125,250,375,500,625,750,875,1000],"format":"d","title":null,"labelFontSize":10,"labelFontWeight":"bold","labelColor":"#333","ticks":false,"grid":false,"domainColor":"#666","domainWidth":1.2,"labelPadding":12,"labelFlush":false,"labelOverlap":false}},"y2":{"field":"hi"},
  "strokeDash":{"field":"type","type":"nominal","scale":{"domain":["Natural bar","Constructed reef"],"range":[[1,0],[3,2]]},"legend":null}}},
{"data":{"name":"bars"},"transform":[{"filter":"datum.site==='F'"}],"mark":{"type":"tick","size":5,"thickness":1.5,"color":"#111"},
 "encoding":{"xOffset":{"field":"type","type":"nominal","scale":{"domain":["Natural bar","Constructed reef"],"paddingInner":0,"paddingOuter":0.28}},
  "y":{"field":"hi","type":"quantitative","scale":{"domain":[0,1000],"nice":false},"axis":{"values":[0,125,250,375,500,625,750,875,1000],"format":"d","title":null,"labelFontSize":10,"labelFontWeight":"bold","labelColor":"#333","ticks":false,"grid":false,"domainColor":"#666","domainWidth":1.2,"labelPadding":12,"labelFlush":false,"labelOverlap":false}}}},
{"data":{"name":"notes"},"transform":[{"filter":"datum.site==='F'"}],"mark":{"type":"text","fontSize":9,"fontWeight":"bold","color":"#333","baseline":"bottom","align":"center","dy":-1},
 "encoding":{"xOffset":{"field":"type","type":"nominal","scale":{"domain":["Natural bar","Constructed reef"],"paddingInner":0,"paddingOuter":0.28}},
  "y":{"field":"value","type":"quantitative","scale":{"domain":[0,1000],"nice":false},"axis":{"values":[0,125,250,375,500,625,750,875,1000],"format":"d","title":null,"labelFontSize":10,"labelFontWeight":"bold","labelColor":"#333","ticks":false,"grid":false,"domainColor":"#666","domainWidth":1.2,"labelPadding":12,"labelFlush":false,"labelOverlap":false}},"text":{"field":"text"}}},
{"data":{"name":"panels"},"transform":[{"filter":"datum.site==='F'"}],"mark":{"type":"text","fontSize":17.5,"color":"#222","baseline":"top","align":"left","dx":-8,"dy":8},
 "encoding":{"x":{"datum":1993,"type":"ordinal","scale":{"domain":[1993,1994,1995,1996,1997,1998,1999,2000,2001,2002,2003,2004,2005,2006],"paddingInner":0,"paddingOuter":0},"axis":{"title":"Year","titleFontSize":16,"titleFontWeight":"normal","titleColor":"#222","titlePadding":19,"labelFontSize":10.5,"labelColor":"#333","ticks":false,"labelAngle":0,"domainColor":"#111","domainWidth":1.5,"labelPadding":3,"labelOverlap":false}},
  "y":{"datum":1000,"type":"quantitative","scale":{"domain":[0,1000],"nice":false},"axis":{"values":[0,125,250,375,500,625,750,875,1000],"format":"d","title":null,"labelFontSize":10,"labelFontWeight":"bold","labelColor":"#333","ticks":false,"grid":false,"domainColor":"#666","domainWidth":1.2,"labelPadding":12,"labelFlush":false,"labelOverlap":false}},"text":{"field":"label"}}}
]
}
]
}
